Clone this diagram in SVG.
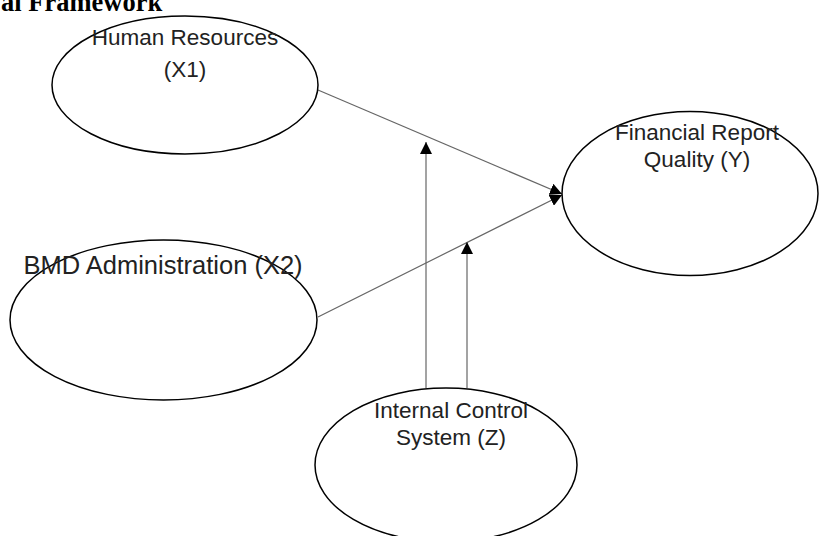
<svg xmlns="http://www.w3.org/2000/svg" width="819" height="536" viewBox="0 0 819 536">
<style>
.node ellipse{fill:#fff;stroke:#000;stroke-width:1.5}
.lbl{font-family:"Liberation Sans",Arial,sans-serif;font-size:22.5px;fill:#222;text-anchor:middle}
.edge{stroke:#666;stroke-width:1.2;fill:none;marker-end:url(#ah)}
.title{font-family:"Liberation Serif","Times New Roman",serif;font-weight:bold;font-size:26.5px;fill:#000}
</style>
<defs>
<marker id="ah" viewBox="0 0 12 12" refX="12" refY="6" markerWidth="12" markerHeight="12" markerUnits="userSpaceOnUse" orient="auto">
<path d="M0,0 L12,6 L0,12 Z" fill="#000"/>
</marker>
</defs>
<rect width="819" height="536" fill="#fff"/>
<text class="title" x="1" y="11">al Framework</text>
<g id="connectors">
<line class="edge" x1="318" y1="90" x2="562" y2="194"/>
<line class="edge" x1="318" y1="317" x2="562" y2="195"/>
<line class="edge" x1="426" y1="388" x2="426" y2="142"/>
<line class="edge" x1="467" y1="388" x2="467" y2="242"/>
</g>
<g id="hr" class="node">
<ellipse cx="185" cy="85" rx="133" ry="69"/>
<text class="lbl" x="185" y="45">Human Resources</text>
<text class="lbl" x="185" y="77">(X1)</text>
</g>
<g id="bmd" class="node">
<ellipse cx="163.5" cy="320" rx="153.5" ry="80"/>
<text class="lbl" x="163" y="274" style="font-size:25.5px">BMD Administration (X2)</text>
</g>
<g id="frq" class="node">
<ellipse cx="690" cy="193.5" rx="128" ry="82"/>
<text class="lbl" x="697" y="140">Financial Report</text>
<text class="lbl" x="697" y="167">Quality (Y)</text>
</g>
<g id="ics" class="node">
<ellipse cx="446" cy="465" rx="131" ry="77"/>
<text class="lbl" x="451" y="418">Internal Control</text>
<text class="lbl" x="451" y="445">System (Z)</text>
</g>
</svg>
